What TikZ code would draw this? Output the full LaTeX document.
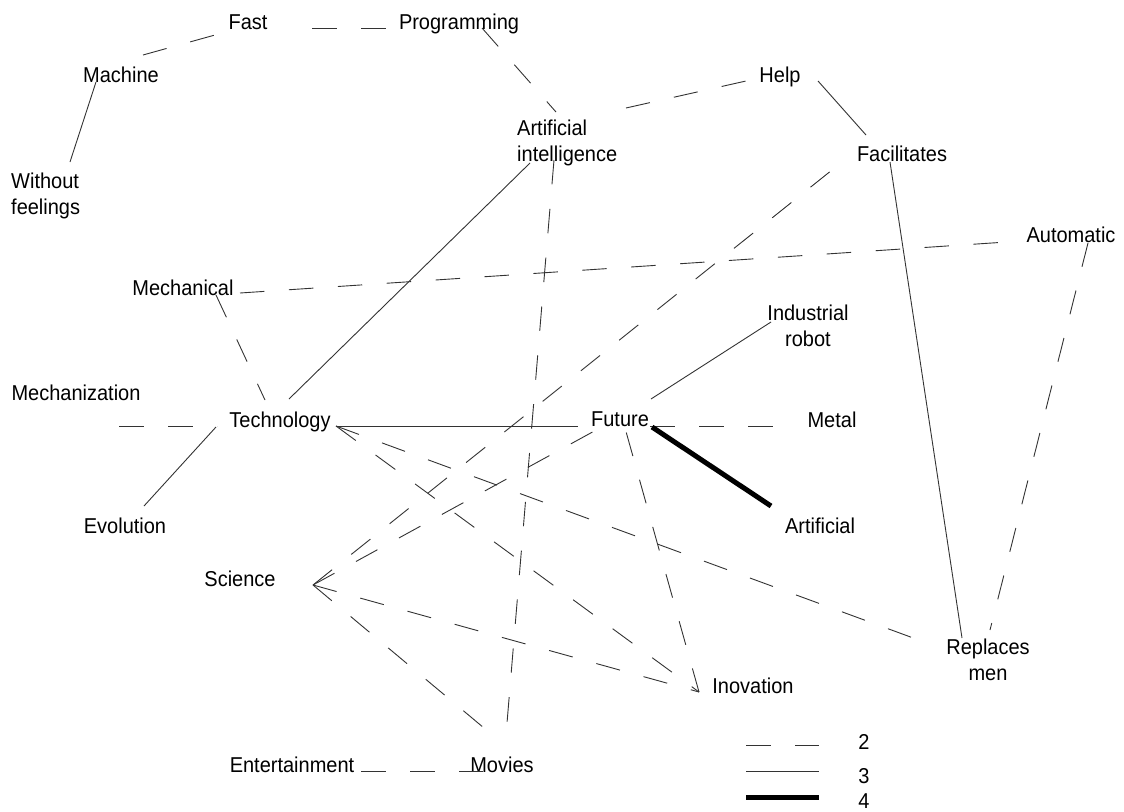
\documentclass[tikz,border=0pt]{standalone}
\usepackage{fontspec}
\setmainfont{Liberation Sans}[FakeStretch=0.93]
\begin{document}
\begin{tikzpicture}[x=1pt,y=-1pt,
  lbl/.style={inner sep=0pt,anchor=base,font={\fontsize{21.5}{25.5}\selectfont}},
  lbltwo/.style={inner sep=0pt,font={\fontsize{21.5}{25.5}\selectfont}},
  tie2/.style={draw=black!80,line width=0.9pt,dash pattern=on 24.5pt off 24.5pt},
  tie3/.style={draw=black!80,line width=0.9pt},
  tie4/.style={draw=black,line width=5pt}]
\useasboundingbox (0,0) rectangle (1124,811);

% concept labels
\node[lbl] (fast) at (248,29) {Fast};
\node[lbl] (prog) at (459,29) {Programming};
\node[lbl] (machine) at (121,82) {Machine};
\node[lbltwo,anchor=north west,align=left] (nofeel) at (11,173) {Without\\feelings};
\node[lbl] (help) at (780,82) {Help};
\node[lbltwo,anchor=north west,align=left] (ai) at (517,120) {Artificial\\intelligence};
\node[lbl] (facil) at (902,161) {Facilitates};
\node[lbl] (auto) at (1071,242) {Automatic};
\node[lbl] (mech) at (183,295) {Mechanical};
\node[lbltwo,anchor=north,align=center] (indrob) at (808,305) {Industrial\\robot};
\node[lbl] (mechz) at (76,400) {Mechanization};
\node[lbl] (tech) at (280,427) {Technology};
\node[lbl] (future) at (620,426) {Future};
\node[lbl] (metal) at (832,427) {Metal};
\node[lbl] (evol) at (125,533) {Evolution};
\node[lbl] (artif) at (820,533) {Artificial};
\node[lbl] (sci) at (240,586) {Science};
\node[lbltwo,anchor=north,align=center] (repl) at (988,639) {Replaces\\men};
\node[lbl] (inov) at (753,693) {Inovation};
\node[lbl] (ent) at (292,772) {Entertainment};
\node[lbl] (movies) at (502,772) {Movies};

% shared line ends
\coordinate (techR) at ([shift={(56,-1)}]tech.base);
\coordinate (sciR) at ([shift={(73,-1)}]sci.base);
\coordinate (inovL) at ([shift={(-54,-1)}]inov.base);

% strength 2 ties (dashed)
\draw[tie2] ([shift={(22,-27)}]machine.base) -- ([shift={(-33,6)}]fast.base);
\draw[tie2] ([shift={(64,-1)}]fast.base) -- ([shift={(-73,-1)}]prog.base);
\draw[tie2] ([shift={(23,-1)}]prog.base) -- ([shift={(39,-8)}]ai.north west);
\draw[tie2] ([shift={(109,-12)}]ai.north west) -- ([shift={(-34,-1)}]help.base);
\draw[tie2] (sciR) -- ([shift={(-60,1)}]facil.base);
\draw[tie2] ([shift={(37,40)}]ai.north west) -- ([shift={(5,-49)}]movies.base);
\draw[tie2] ([shift={(57,-2)}]mech.base) -- ([shift={(-49,-1)}]auto.base);
\draw[tie2] ([shift={(17,1)}]auto.base) -- ([shift={(2,-9)}]repl.north);
\draw[tie2] ([shift={(33,0)}]mech.base) -- ([shift={(-15,-27)}]tech.base);
\draw[tie2] ([shift={(43,26)}]mechz.base) -- ([shift={(-63,-1)}]tech.base);
\draw[tie2] ([shift={(30,0)}]future.base) -- ([shift={(-57,-1)}]metal.base);
\draw[tie2] (inovL) -- ([shift={(5,2)}]future.base);
\draw[tie2] (sciR) -- ([shift={(-22,3)}]future.base);
\draw[tie2] (techR) -- ([shift={(-72,0)}]repl.north);
\draw[tie2] (techR) -- (inovL);
\draw[tie2] (sciR) -- (inovL);
\draw[tie2] (sciR) -- ([shift={(-12,-39)}]movies.base);
\draw[tie2] ([shift={(69,-1)}]ent.base) -- ([shift={(-19,-1)}]movies.base);

% strength 3 ties (solid)
\draw[tie3] ([shift={(-25,0)}]machine.base) -- ([shift={(59,-11)}]nofeel.north west);
\draw[tie3] ([shift={(38,-1)}]help.base) -- ([shift={(-36,-26)}]facil.base);
\draw[tie3] ([shift={(-12,1)}]facil.base) -- ([shift={(-26,-1)}]repl.north);
\draw[tie3] ([shift={(13,43)}]ai.north west) -- ([shift={(9,-28)}]tech.base);
\draw[tie3] ([shift={(-64,0)}]tech.base) -- ([shift={(19,-27)}]evol.base);
\draw[tie3] (techR) -- ([shift={(-42,0)}]future.base);
\draw[tie3] ([shift={(31,-27)}]future.base) -- ([shift={(-37,17)}]indrob.north);

% strength 4 tie (thick)
\draw[tie4] ([shift={(32,1)}]future.base) -- ([shift={(-49,-27)}]artif.base);

% legend
\coordinate (k2a) at (746,745); \coordinate (k2b) at (819,745);
\coordinate (k3a) at (746,771); \coordinate (k3b) at (819,771);
\coordinate (k4a) at (746,797); \coordinate (k4b) at (819,797);
\draw[tie2] (k2a) -- (k2b);
\draw[tie3] (k3a) -- (k3b);
\draw[tie4] (k4a) -- (k4b);
\node[lbl] (n2) at (864,749) {2};
\node[lbl] (n3) at (864,783) {3};
\node[lbl] (n4) at (864,808) {4};
\end{tikzpicture}
\end{document}
